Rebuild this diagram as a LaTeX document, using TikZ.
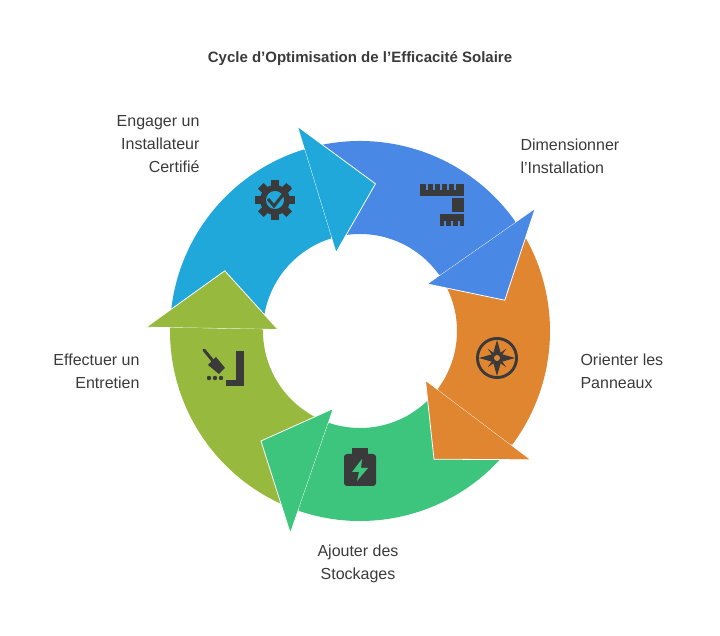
\documentclass[tikz,border=0pt]{standalone}
\usepackage{fontspec}
\setmainfont{Liberation Sans}
\definecolor{cteal}{HTML}{1FA8D9}
\definecolor{cblue}{HTML}{4A88E6}
\definecolor{corange}{HTML}{E08530}
\definecolor{cgreen}{HTML}{3DC57E}
\definecolor{colive}{HTML}{96B93E}
\definecolor{ink}{HTML}{3A3A3A}
\tikzset{
  lbl/.style={font=\fontsize{16}{23}\selectfont, text=ink},
  icon/.style={fill=ink, draw=none}
}
\begin{document}
\begin{tikzpicture}[x=1pt,y=1pt]
  \useasboundingbox (0,0) rectangle (720,636);
  \node[font=\bfseries\fontsize{15}{17}\selectfont, text=ink] (title) at (360,577) {Cycle d'Optimisation de l'Efficacité Solaire};
  \begin{scope}[shift={(360,305)}]
    % ring bodies
    \foreach \col/\a in {cteal/179, cblue/107, corange/35, cgreen/-37, colive/-109}{
      \pgfmathsetmacro\b{\a-72}
      \fill[\col] (\a:190) arc[start angle=\a, end angle=\b, radius=190]
        -- (\b:97) arc[start angle=\b, end angle=\a, radius=97] -- cycle;
    }
    % arrow heads
    \foreach \col/\a in {cteal/179, cblue/107, corange/35, cgreen/-37, colive/-109}{
      \pgfmathsetmacro\b{\a-72}
      \pgfmathsetmacro\t{\b-23}
      \fill[\col, draw=white, line width=0.8pt] (\b:214) -- (\t:148) -- (\b:82) -- cycle;
      \fill[\col] (\b:189) -- (\b+0.5:189) -- (\b+0.5:98) -- (\b:98) -- cycle;
    }
  \end{scope}
  % icons
  % gear with check
  \fill[icon] (275,436) circle (15);
  \foreach \k in {0,45,...,315}
    \fill[icon, rotate around={\k:(275,436)}] (271,449) rectangle (279,456);
  \fill[cteal] (275,436) circle (9);
  \draw[ink, line width=3pt] (268,437) -- (274,430) -- (290,450);
  % ruler
  \fill[icon] (420,440) rectangle (464,452);
  \foreach \x in {426,433,440,447,454}
    \fill[cblue] (\x,446) rectangle (\x+2,452);
  \fill[icon] (452,438) rectangle (464,424);
  \fill[icon] (440,422) rectangle (464,410);
  \foreach \x in {444,451,458}
    \fill[cblue] (\x,410) rectangle (\x+2,415);
  % compass
  \fill[icon] (497,278) circle (21);
  \fill[corange] (497,278) circle (18);
  \fill[icon] (497,296) -- (501,282) -- (515,278) -- (501,274) -- (497,260) -- (493,274) -- (479,278) -- (493,282) -- cycle;
  \fill[icon, rotate around={45:(497,278)}] (497,291) -- (499,280) -- (510,278) -- (499,276) -- (497,265) -- (495,276) -- (484,278) -- (495,280) -- cycle;
  \fill[corange] (497,278) circle (3);
  % battery
  \fill[icon, rounded corners=3pt] (344,150) rectangle (376,182);
  \fill[icon] (352,182) rectangle (368,188);
  \fill[cgreen] (362,177) -- (352,164) -- (359,164) -- (357,155) -- (368,168) -- (361,168) -- cycle;
  % broom
  \draw[ink, line width=3pt, line cap=round] (204,286) -- (213,275);
  \fill[icon] (208,271) -- (216,279) -- (225,268) -- (219,262) -- cycle;
  \foreach \x in {209,215,221} \fill[icon] (\x,258) circle (2.2);
  \fill[icon] (236,250) rectangle (244,285);
  \fill[icon] (226,250) rectangle (244,256);
  % labels
  \node[lbl, align=right, anchor=east] (l1) at (203,492) {Engager un\\Installateur\\Certifié};
  \node[lbl, align=left, anchor=west] (l2) at (517,480) {Dimensionner\\l'Installation};
  \node[lbl, align=left, anchor=west] (l3) at (577,265) {Orienter les\\Panneaux};
  \node[lbl, align=center] (l4) at (358,72) {Ajouter des\\Stockages};
  \node[lbl, align=right, anchor=east] (l5) at (143,265) {Effectuer un\\Entretien};
\end{tikzpicture}
\end{document}
